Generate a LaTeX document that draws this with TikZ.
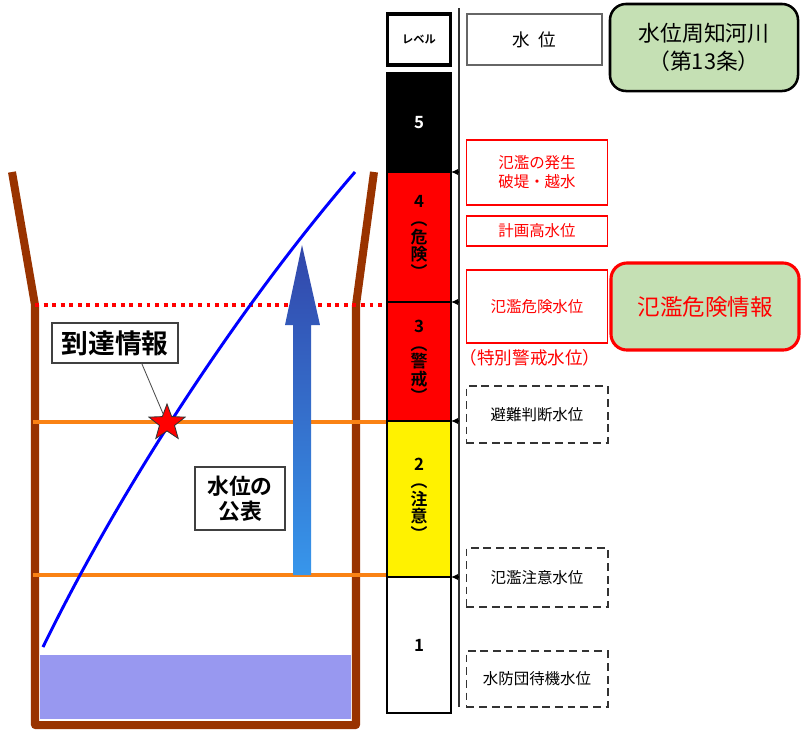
\documentclass[tikz,border=0pt]{standalone}
\usepackage{fontspec}
\setmainfont{Noto Sans CJK JP}[BoldFont={Noto Sans CJK JP Bold}]
\usetikzlibrary{arrows.meta,shapes.geometric}

\definecolor{bankbrown}{RGB}{153,51,0}
\definecolor{riverblue}{RGB}{152,152,240}
\definecolor{lineorange}{RGB}{250,130,20}
\definecolor{notegreen}{RGB}{197,224,180}
\definecolor{arrowtop}{RGB}{50,70,170}
\definecolor{arrowbot}{RGB}{55,150,235}

\tikzstyle{gauge}=[%
	every node/.style = {%
		inner sep=0pt,
		outer sep=0pt
	},%
	levelbox/.style={%
		draw=black,
		line width=1.4pt,
		minimum width=1.6cm,
		align=center,
		font=\bfseries\fontsize{12}{12.5}\selectfont
	},
	redbox/.style={%
		draw=red,
		line width=1.1pt,
		fill=white,
		text=red,
		minimum width=3.525cm,
		align=center,
		font=\fontsize{11}{13.5}\selectfont
	},
	dashbox/.style={%
		draw=black!80,
		line width=1.4pt,
		dash pattern=on 5.5pt off 3.5pt,
		minimum width=3.525cm,
		font=\fontsize{11}{13}\selectfont
	},
	notebox/.style={%
		draw=black,
		line width=1.8pt,
		fill=notegreen,
		rounded corners=0.4cm,
		minimum width=4.7cm,
		minimum height=2.175cm,
		align=center,
		font=\fontsize{15.5}{20}\selectfont
	},
	callout/.style={%
		draw=black!75,
		line width=1.3pt,
		fill=white,
		align=center,
		font=\bfseries\fontsize{15.5}{18}\selectfont
	},
	starmark/.style={%
		star,
		star points=5,
		star point ratio=2.4,
		minimum size=0.95cm,
		fill=red,
		draw=black!80,
		line width=0.6pt
	}
]

\begin{document}
\begin{tikzpicture}[
	x=0.025cm,
	y=-0.025cm,
	gauge
]
	\useasboundingbox (0,0) rectangle (801,733);

	% river channel
	\fill[riverblue] (40,655) rectangle (351,719);
	\draw[bankbrown, line width=5.7pt, line join=round]
		(12,172) -- (35,305) -- (35,725) -- (356,725) -- (356,305) -- (374,172);
	\draw[red, line width=2.4pt, dash pattern=on 2.8pt off 3.3pt] (35,305) -- (388,305);
	\draw[lineorange, line width=2.8pt] (33,422) -- (388,422);
	\draw[lineorange, line width=2.8pt] (33,575) -- (388,575);

	\shade[top color=arrowtop, bottom color=arrowbot]
		(293,575) -- (293,325) -- (285,325) -- (302,245)
		-- (320,325) -- (311,325) -- (311,575) -- cycle;

	\draw[blue, line width=2.1pt] (43,647) .. controls (120,489) and (240,305) .. (355,172);

	\node[starmark] (star) at (167,423) {};
	\node[callout, minimum width=3.15cm, minimum height=1cm,
		font=\bfseries\fontsize{19}{19}\selectfont] (arrive) at (115,343) {到達情報};
	\draw[black!70, line width=0.6pt] (arrive.-37) -- (star);
	\node[callout, minimum width=2.25cm, minimum height=1.575cm] (publish)
		at (240,498.5) {水位の\\公表};

	% level column
	\node[levelbox, line width=2.2pt, minimum width=1.575cm, minimum height=1.275cm,
		font=\bfseries\fontsize{8}{8}\selectfont] (lvhead) at (419,39.5) {レベル};
	\foreach \lv/\ytop/\ybot/\clr/\txtclr/\lbl in {%
		5/73/172/black/white/5,
		4/172/302/red/black/{4\\︵\\危\\険\\︶},
		3/302/421/red/black/{3\\︵\\警\\戒\\︶},
		2/421/577/yellow/black/{2\\︵\\注\\意\\︶},
		1/577/713/white/black/1} {
		\node[levelbox, fill=\clr, text=\txtclr, minimum height={(\ybot-\ytop)*0.025cm}]
			(lv\lv) at (419,{(\ytop+\ybot)/2}) {\lbl};
	}

	\coordinate (railtop) at (459,8);
	\coordinate (railbot) at (459,707);
	\draw[black!80, line width=1.3pt] (railtop) -- (railbot);
	\foreach \lv in {5,4,3,2} {
		\draw[-{Latex[length=5pt,width=4.5pt]}, line width=0.8pt]
			([xshift=0.2cm]lv\lv.south east) -- (lv\lv.south east);
	}

	% water levels
	\node[draw=black!60, line width=1.3pt, minimum width=3.375cm, minimum height=1.275cm,
		font=\fontsize{12.5}{12.5}\selectfont] (wlhead) at (534.5,39.5) {水\hspace{0.45em}位};
	\node[redbox, minimum height=1.625cm] (flood) at (537,172.5) {氾濫の発生\\破堤・越水};
	\node[redbox, minimum height=0.75cm] (plan) at (537,231) {計画高水位};
	\node[redbox, minimum height=1.825cm] (danger) at (537,306.5) {氾濫危険水位};
	\node[text=red, font=\fontsize{12.5}{12.5}\selectfont] (special) at (530,358) {（特別警戒水位）};
	\node[dashbox, minimum height=1.425cm] (evac) at (537,414.5) {避難判断水位};
	\node[dashbox, minimum height=1.475cm] (caution) at (537,577.5) {氾濫注意水位};
	\node[dashbox, minimum height=1.4cm] (standby) at (537,679) {水防団待機水位};

	% information
	\node[notebox] (notice) at (704,47.5) {水位周知河川\\（第13条）};
	\node[notebox, draw=red, line width=2.2pt, text=red,
		font=\fontsize{16}{16}\selectfont] (warn) at (705,306.5) {氾濫危険情報};
\end{tikzpicture}
\end{document}
